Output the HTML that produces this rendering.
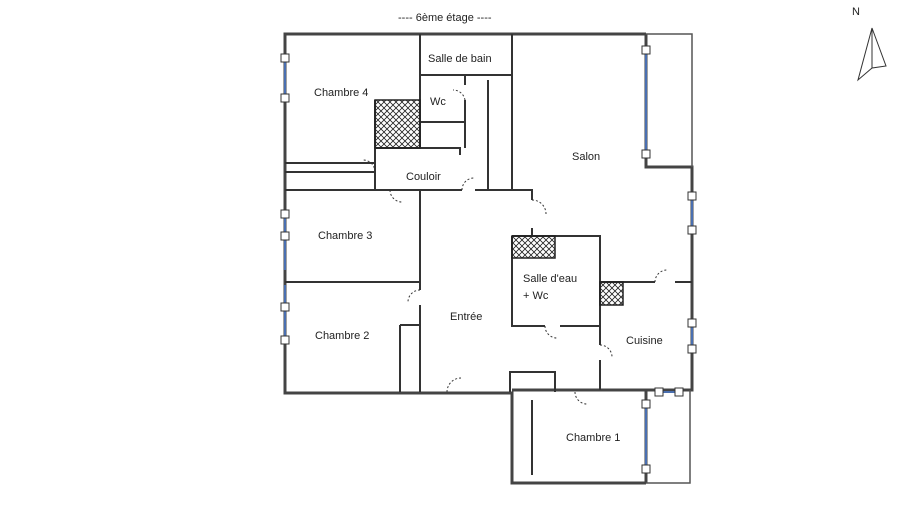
<!DOCTYPE html>
<html><head><style>
body{margin:0;background:#fff;width:900px;height:503px;overflow:hidden}
text{font-family:"Liberation Sans",sans-serif;font-size:11px;fill:#222}
</style></head><body>
<svg width="900" height="503" viewBox="0 0 900 503">
<defs>
<pattern id="h" width="6" height="6" patternUnits="userSpaceOnUse">
<path d="M0 0L6 6M6 0L0 6" stroke="#222" stroke-width="0.8"/>
</pattern>
</defs>
<g fill="none" stroke="#444" stroke-width="3">
<!-- outer -->
<path d="M646 34 H285 V393 H512 V483 H646"/>
<path d="M646 34 V167 H692 V390 H512"/>
<path d="M646 390 V483"/>
</g>
<g fill="none" stroke="#555" stroke-width="1.5">
<path d="M646 34 H692 V167"/>
<path d="M646 483 H690 V390"/>
</g>
<!-- windows -->
<g stroke="#4a6fb0" stroke-width="2" fill="none">
<path d="M285 58 V98"/><path d="M285 214 V270"/><path d="M285 285 V340"/>
<path d="M646 50 V155"/><path d="M692 196 V230"/><path d="M692 322 V350"/>
<path d="M660 392 H680"/><path d="M646 400 V470"/>
</g>
<g fill="#fff" stroke="#333" stroke-width="1">
<rect x="281" y="54" width="8" height="8"/><rect x="281" y="94" width="8" height="8"/>
<rect x="281" y="210" width="8" height="8"/><rect x="281" y="232" width="8" height="8"/>
<rect x="281" y="303" width="8" height="8"/><rect x="281" y="336" width="8" height="8"/>
<rect x="642" y="46" width="8" height="8"/><rect x="642" y="150" width="8" height="8"/>
<rect x="688" y="192" width="8" height="8"/><rect x="688" y="226" width="8" height="8"/>
<rect x="688" y="319" width="8" height="8"/><rect x="688" y="345" width="8" height="8"/>
<rect x="655" y="388" width="8" height="8"/><rect x="675" y="388" width="8" height="8"/>
<rect x="642" y="400" width="8" height="8"/><rect x="642" y="465" width="8" height="8"/>
</g>
<g fill="none" stroke="#333" stroke-width="2">
<path d="M420 34 V100"/><path d="M512 34 V190"/>
<path d="M420 75 H512"/><path d="M420 75 V148"/><path d="M420 122 H465"/><path d="M465 75 V85 M465 100 V148"/>
<path d="M375 148 H460 V155"/><path d="M375 100 V190"/>
<path d="M488 80 V190"/>
<path d="M285 163 H375"/><path d="M285 172 H375"/>
<path d="M285 190 H462 M475 190 H532 V200 M532 228 V236"/>
<path d="M420 190 V290 M420 305 V392"/>
<path d="M285 282 H420"/>
<path d="M400 325 V392"/><path d="M400 325 H420"/>
<path d="M512 236 H600 V326 H560 M545 326 H512 V236"/>
<path d="M600 282 H655 M675 282 H692"/>
<path d="M600 326 V345 M600 360 V390"/>
<path d="M510 392 V372 H555 V392"/>
<path d="M532 400 V475"/>
</g>
<rect x="375" y="100" width="45" height="48" fill="url(#h)" stroke="#222" stroke-width="1.5"/>
<rect x="512" y="236" width="43" height="22" fill="url(#h)" stroke="#222" stroke-width="1.5"/>
<rect x="600" y="282" width="23" height="23" fill="url(#h)" stroke="#222" stroke-width="1.5"/>
<g fill="none" stroke="#333" stroke-width="1" stroke-dasharray="2,2">
<path d="M462 190 A12 12 0 0 1 475 178"/><path d="M532 200 A14 14 0 0 1 546 214"/>
<path d="M420 290 A12 12 0 0 0 408 302"/><path d="M655 282 A12 12 0 0 1 667 270"/>
<path d="M600 345 A12 12 0 0 1 612 357"/><path d="M545 326 A12 12 0 0 0 557 338"/>
<path d="M375 172 A12 12 0 0 0 362 160"/><path d="M390 190 A12 12 0 0 0 402 202"/>
<path d="M447 392 A14 14 0 0 1 461 378"/><path d="M575 392 A12 12 0 0 0 587 404"/>
<path d="M465 100 A12 12 0 0 0 453 90"/>
</g>
<text x="398" y="21" font-size="10">----  6ème étage  ----</text>
<text x="428" y="62">Salle de bain</text>
<text x="430" y="105">Wc</text>
<text x="314" y="96">Chambre 4</text>
<text x="406" y="180">Couloir</text>
<text x="572" y="160">Salon</text>
<text x="318" y="239">Chambre 3</text>
<text x="523" y="282">Salle d'eau</text>
<text x="523" y="299">+ Wc</text>
<text x="315" y="339">Chambre 2</text>
<text x="450" y="320">Entrée</text>
<text x="626" y="344">Cuisine</text>
<text x="566" y="441">Chambre 1</text>
<text x="852" y="15" font-size="12">N</text>
<path d="M872 28 L858 80 L872 68 Z" fill="#fff" stroke="#333"/>
<path d="M872 28 L886 66 L872 68 Z" fill="#fff" stroke="#333"/>
</svg>
</body></html>
